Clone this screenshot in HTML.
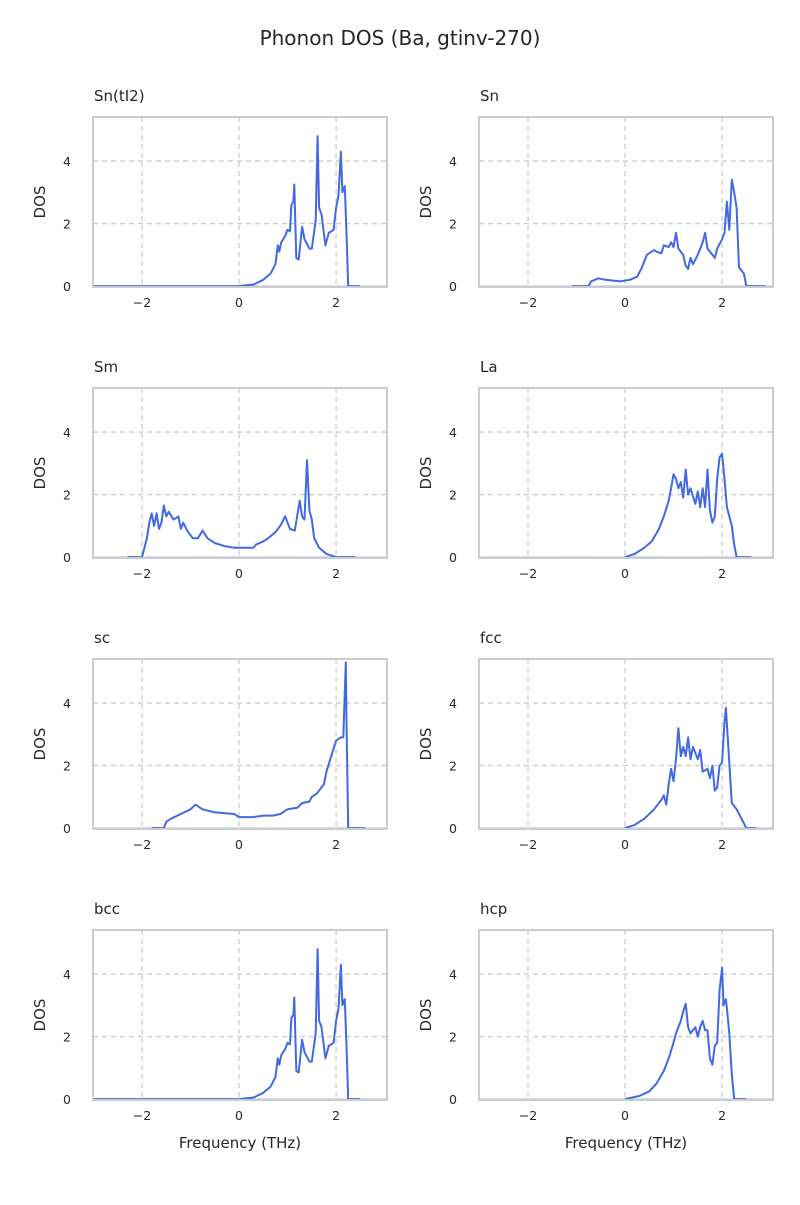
<!DOCTYPE html>
<html><head><meta charset="utf-8"><style>
body{margin:0;background:#fff;font-family:"Liberation Sans","DejaVu Sans",sans-serif}
svg text{font-family:"DejaVu Sans","Liberation Sans",sans-serif;fill:#262626}
</style></head><body>
<svg id="fig" width="800" height="1200" viewBox="0 0 800 1200">
<text x="400" y="45" text-anchor="middle" font-size="20">Phonon DOS (Ba, gtinv-270)</text>
</svg>
<script>
const panelTitles=["Sn(tI2)","Sn","Sm","La","sc","fcc","bcc","hcp"];
const xTicks=[-2,0,2];
const yTicks=[0,2,4];
const f1=[-3,0,0.3,0.5,0.65,0.75,0.8,0.83,0.87,0.95,1.0,1.05,1.08,1.12,1.14,1.18,1.23,1.3,1.35,1.45,1.5,1.58,1.62,1.65,1.7,1.78,1.85,1.95,2.0,2.05,2.1,2.13,2.18,2.22,2.25,2.5];
const d1=[0,0,0.05,0.2,0.4,0.7,1.3,1.1,1.4,1.6,1.8,1.75,2.6,2.7,3.25,0.9,0.85,1.9,1.5,1.2,1.2,2.1,4.8,2.5,2.3,1.3,1.7,1.8,2.5,2.9,4.3,3.0,3.2,1.5,0,0];
const f2=[-1.1,-0.75,-0.7,-0.55,-0.4,-0.1,0.1,0.25,0.35,0.45,0.6,0.65,0.75,0.8,0.9,0.95,1.0,1.05,1.1,1.2,1.25,1.3,1.35,1.4,1.5,1.6,1.65,1.7,1.8,1.85,1.9,2.0,2.05,2.1,2.15,2.2,2.25,2.3,2.35,2.45,2.5,2.9];
const d2=[0,0,0.15,0.25,0.2,0.15,0.2,0.3,0.6,1.0,1.15,1.1,1.05,1.3,1.25,1.4,1.25,1.7,1.2,1.0,0.65,0.55,0.9,0.7,1.0,1.4,1.7,1.2,1.0,0.9,1.2,1.5,1.7,2.7,1.8,3.4,3.0,2.5,0.6,0.4,0,0];
const f3=[-2.3,-2,-1.9,-1.85,-1.8,-1.75,-1.7,-1.65,-1.6,-1.55,-1.5,-1.45,-1.35,-1.25,-1.2,-1.15,-1.05,-0.95,-0.85,-0.75,-0.65,-0.5,-0.3,-0.1,0.3,0.35,0.5,0.6,0.75,0.85,0.95,1.05,1.15,1.25,1.3,1.35,1.4,1.45,1.5,1.55,1.65,1.8,2.0,2.4];
const d3=[0,0,0.6,1.1,1.4,1.0,1.4,0.9,1.1,1.65,1.3,1.45,1.2,1.3,0.9,1.1,0.8,0.6,0.6,0.85,0.6,0.45,0.35,0.3,0.3,0.4,0.5,0.6,0.8,1.0,1.3,0.9,0.85,1.8,1.3,1.2,3.1,1.5,1.2,0.6,0.3,0.1,0,0];
const f4=[0,0.2,0.4,0.55,0.7,0.8,0.9,0.95,1.0,1.05,1.1,1.15,1.2,1.25,1.3,1.35,1.45,1.5,1.55,1.6,1.65,1.7,1.75,1.8,1.85,1.9,1.95,2.0,2.05,2.1,2.2,2.25,2.3,2.6];
const d4=[0,0.1,0.3,0.5,0.9,1.3,1.8,2.2,2.65,2.5,2.2,2.4,1.9,2.8,2.0,2.2,1.7,2.1,1.6,2.2,1.6,2.8,1.5,1.1,1.3,2.5,3.2,3.3,2.5,1.6,1.0,0.4,0,0];
const f5=[-1.8,-1.55,-1.5,-1.4,-1.2,-1.0,-0.9,-0.85,-0.75,-0.5,-0.1,0,0.3,0.5,0.7,0.85,1.0,1.2,1.3,1.45,1.5,1.6,1.7,1.75,1.8,1.9,2.0,2.1,2.15,2.2,2.22,2.25,2.6];
const d5=[0,0,0.2,0.3,0.45,0.6,0.75,0.7,0.6,0.5,0.45,0.35,0.35,0.4,0.4,0.45,0.6,0.65,0.8,0.85,1.0,1.1,1.3,1.4,1.8,2.3,2.8,2.9,2.9,5.3,3.0,0,0];
const f6=[0,0.2,0.4,0.6,0.75,0.8,0.85,0.9,0.95,1.0,1.05,1.1,1.15,1.2,1.25,1.3,1.35,1.4,1.5,1.55,1.6,1.7,1.75,1.8,1.85,1.9,1.95,2.0,2.05,2.08,2.12,2.2,2.3,2.4,2.5,2.7];
const d6=[0,0.1,0.3,0.6,0.9,1.05,0.75,1.4,1.9,1.5,2.2,3.2,2.3,2.6,2.3,2.9,2.2,2.6,2.2,2.5,1.8,1.9,1.6,2.0,1.2,1.3,2.0,2.1,3.4,3.85,2.8,0.8,0.6,0.3,0,0];
const f8=[0,0.3,0.5,0.65,0.8,0.9,1.0,1.05,1.15,1.2,1.25,1.3,1.35,1.45,1.5,1.55,1.6,1.65,1.7,1.75,1.8,1.85,1.9,1.95,2.0,2.03,2.08,2.1,2.15,2.2,2.25,2.5];
const d8=[0,0.1,0.25,0.5,0.9,1.3,1.8,2.1,2.5,2.8,3.05,2.3,2.1,2.3,2.0,2.3,2.5,2.2,2.2,1.3,1.1,1.7,1.8,3.5,4.2,3.0,3.2,2.9,2.1,0.8,0,0];
const freqs=[f1,f2,f3,f4,f5,f6,f1,f8];
const dos=[d1,d2,d3,d4,d5,d6,d1,d8];
const xMin=-3.01,xMax=3.05,yMin=-0.03,yMax=5.41;
const NS="http://www.w3.org/2000/svg";
const fig=document.getElementById('fig');
function mk(tag,attrs,parent){const e=document.createElementNS(NS,tag);for(const k in attrs)e.setAttribute(k,attrs[k]);parent.appendChild(e);return e;}
const colsX=[93,479],rowsY=[117,388,659,930],W=294,H=170;
panelTitles.forEach((t,i)=>{
  const L=colsX[i%2],T=rowsY[Math.floor(i/2)];
  const sx=v=>L+(v-xMin)/(xMax-xMin)*W;
  const sy=v=>T+H-(v-yMin)/(yMax-yMin)*H;
  const g=mk('g',{},fig);
  
  
  xTicks.forEach(v=>{
    const l=mk('line',{x1:sx(v),x2:sx(v),y1:T,y2:T+H,stroke:'#cccccc','stroke-width':1.3,'stroke-dasharray':'5,4'},g);
    
    
    const tx=mk('text',{x:sx(v),y:T+H+20,'text-anchor':'middle','font-size':12.5},g);
    tx.textContent=v<0?'\u2212'+Math.abs(v):String(v);
    
    
  });
  yTicks.forEach(v=>{
    const l=mk('line',{x1:L,x2:L+W,y1:sy(v),y2:sy(v),stroke:'#cccccc','stroke-width':1.3,'stroke-dasharray':'5,4'},g);
    
    
    const tx=mk('text',{x:L-22,y:sy(v)+5,'text-anchor':'end','font-size':12.5},g);
    tx.textContent=String(v);
    
    
  });
  const base=mk('line',{x1:L,x2:L+W,y1:sy(0),y2:sy(0),stroke:'#b8c6f0','stroke-width':1.2},g);
  
  
  const pts=freqs[i].map((f,j)=>sx(f).toFixed(1)+','+sy(dos[i][j]).toFixed(1)).join(' ');
  const pl=mk('polyline',{points:pts,fill:'none',stroke:'#4169e1','stroke-width':2,'stroke-linejoin':'round'},g);
  
  
  const fr=mk('rect',{x:L,y:T,width:W,height:H,fill:'none',stroke:'#cccccc','stroke-width':2},g);
  
  
  const tt=mk('text',{x:L+1,y:T-16,'font-size':15},g);
  tt.textContent=t;
  
  
  const yl=mk('text',{x:0,y:0,'text-anchor':'middle','font-size':15,transform:`translate(${L-48},${T+H/2}) rotate(-90)`},g);
  yl.textContent='DOS';
  
  
  if(i>=6){
    const xl=mk('text',{x:L+W/2,y:T+H+48,'text-anchor':'middle','font-size':15},g);
    xl.textContent='Frequency (THz)';
    
    
  }
});
</script>
</body></html>
